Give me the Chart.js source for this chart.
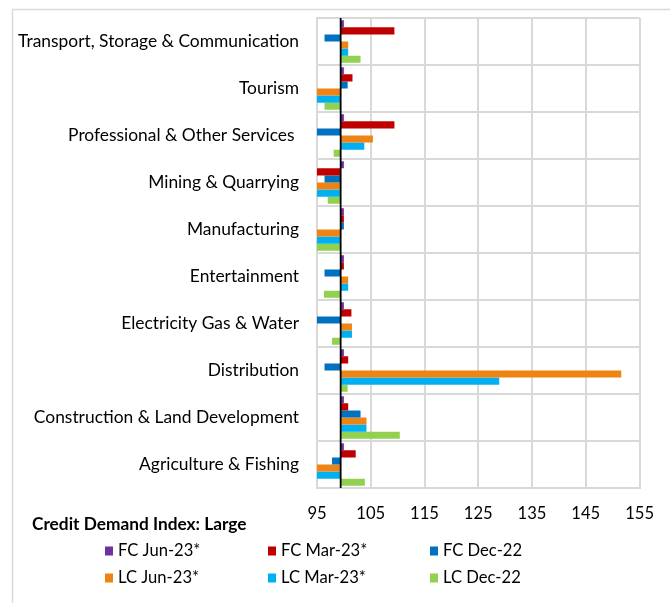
<!DOCTYPE html>
<html>
<head>
<meta charset="utf-8">
<script src="https://cdn.jsdelivr.net/npm/chart.js@4.4.1/dist/chart.umd.min.js"></script>
<style>
  html, body { margin: 0; padding: 0; background: #fff; }
  canvas { display: block; }
</style>
</head>
<body>
<canvas id="cdiChart" width="670" height="603"></canvas>
<script>
// categorias, de arriba hacia abajo
const categories = [
    'Transport, Storage & Communication',
    'Tourism',
    'Professional & Other Services ',
    'Mining & Quarrying',
    'Manufacturing',
    'Entertainment',
    'Electricity Gas & Water',
    'Distribution',
    'Construction & Land Development',
    'Agriculture & Fishing'
];
const fcJun23 = [100, 100, 100, 100, 100, 100, 100, 100, 100, 100];
const fcMar23 = [109.4, 101.6, 109.4, 95, 100, 100, 101.4, 100.8, 100.8, 102.2];
const fcDec22 = [96.4, 100.7, 95, 96.4, 100, 96.4, 95, 96.4, 103.1, 97.8];
const lcJun23 = [100.8, 95, 105.4, 95, 95, 100.8, 101.5, 151.6, 104.2, 95];
const lcMar23 = [100.8, 95, 103.8, 95, 95, 100.8, 101.5, 128.9, 104.2, 95];
const lcDec22 = [103.1, 96.4, 98.1, 97.0, 95, 96.3, 97.8, 100.7, 110.4, 103.9];
const xTicks = [95, 105, 115, 125, 135, 145, 155];
const crossAt = 99.4; // donde cruza el eje vertical

const seriesNames = ['FC Jun-23*', 'FC Mar-23*', 'FC Dec-22', 'LC Jun-23*', 'LC Mar-23*', 'LC Dec-22'];
const seriesData = [fcJun23, fcMar23, fcDec22, lcJun23, lcMar23, lcDec22];
const seriesColors = ['#7030A0', '#C00000', '#0070C0', '#EE8414', '#00B0F0', '#92D050'];

const FONT = 'Lato, "Liberation Sans", sans-serif';
const gridColor = '#D9D9D9';

// linea negra del eje + marco + titulo + leyenda
const extras = {
    id: 'extras',
    beforeDraw(chart) {
        const c = chart.ctx;
        c.save();
        c.strokeStyle = gridColor;
        c.lineWidth = 1.5;
        c.strokeRect(12.5, 9.5, 700, 700);
        c.restore();
    },
    afterDatasetsDraw(chart) {
        const c = chart.ctx;
        const x = chart.scales.x.getPixelForValue(crossAt);
        c.save();
        c.strokeStyle = '#000';
        c.lineWidth = 1.8;
        c.beginPath();
        c.moveTo(x, chart.chartArea.top);
        c.lineTo(x, chart.chartArea.bottom);
        c.stroke();
        c.restore();
    },
    afterDraw(chart) {
        const c = chart.ctx;
        c.save();
        c.fillStyle = '#000';
        c.textBaseline = 'middle';
        c.font = 'bold 17.3px ' + FONT;
        c.fillText('Credit Demand Index: Large', 32, 524);

        c.font = '16.6px ' + FONT;
        const colX = [105, 268, 430];
        const rowY = [551, 578];
        seriesNames.forEach((name, i) => {
            const x = colX[i % 3];
            const y = rowY[Math.floor(i / 3)];
            c.fillStyle = seriesColors[i];
            c.fillRect(x, y - 4.5, 8, 9);
            c.fillStyle = '#000';
            c.fillText(name, x + 13, y);
        });
        c.restore();
    }
};

new Chart(document.getElementById('cdiChart').getContext('2d'), {
    type: 'bar',
    data: {
        labels: categories,
        datasets: seriesData.map((d, i) => ({
            label: seriesNames[i],
            data: d,
            base: crossAt,
            backgroundColor: seriesColors[i],
            borderWidth: 0
        }))
    },
    options: {
        indexAxis: 'y',
        responsive: false,
        animation: false,
        categoryPercentage: 0.905,
        barPercentage: 1,
        layout: { padding: { top: 18, right: 28, left: 0, bottom: 0 } },
        plugins: {
            legend: { display: false },
            tooltip: { enabled: false }
        },
        scales: {
            x: {
                min: 95,
                max: 155,
                afterBuildTicks(scale) {
                    scale.ticks = xTicks.map(v => ({ value: v }));
                },
                afterFit(scale) { scale.height = 115; },
                grid: { color: gridColor, lineWidth: 2, drawTicks: false },
                border: { color: gridColor, width: 2 },
                ticks: {
                    padding: 16,
                    color: '#000',
                    font: { family: FONT, size: 16.6 }
                }
            },
            y: {
                afterFit(scale) {
                    scale.width = 317;
                    scale.paddingTop = 0;
                    scale.paddingBottom = 0;
                },
                grid: { color: gridColor, lineWidth: 2, drawTicks: false, offset: true },
                border: { color: gridColor, width: 2 },
                ticks: {
                    padding: 18,
                    color: '#000',
                    font: { family: FONT, size: 17.4 }
                }
            }
        }
    },
    plugins: [extras]
});
</script>
</body>
</html>
